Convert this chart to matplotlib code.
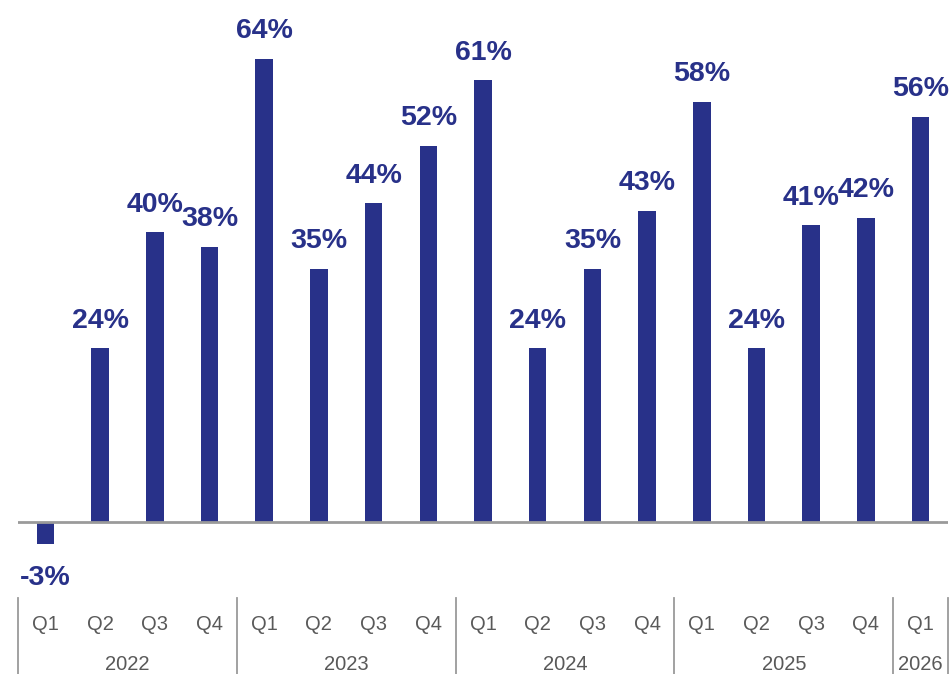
import matplotlib.pyplot as plt
from matplotlib.transforms import blended_transform_factory

plt.rcParams['font.family'] = ['Liberation Sans', 'DejaVu Sans']

quarters = ['Q1', 'Q2', 'Q3', 'Q4',
            'Q1', 'Q2', 'Q3', 'Q4',
            'Q1', 'Q2', 'Q3', 'Q4',
            'Q1', 'Q2', 'Q3', 'Q4',
            'Q1']
years = ['2022', '2023', '2024', '2025', '2026']
quarters_per_year = [4, 4, 4, 4, 1]
values = [-3, 24, 40, 38, 64, 35, 44, 52, 61, 24, 35, 43, 58, 24, 41, 42, 56]

bar_color = '#283189'
grey = '#9a9a9a'
text_grey = '#595959'

fig = plt.figure(figsize=(9.5, 6.74), dpi=100)
ax = fig.add_axes([18 / 950, 84 / 674, 930 / 950, 590 / 674])

x = list(range(len(values)))
bars = ax.bar(x, values, width=0.32, color=bar_color, zorder=2)

for xi, v in zip(x, values):
    ax.annotate(f'{v}%', (xi, v), xytext=(0, 10.5 if v >= 0 else -15.5),
                textcoords='offset points', ha='center',
                va='bottom' if v >= 0 else 'top',
                fontsize=20.5, fontweight='bold', color=bar_color)

ax.axhline(0, color=grey, lw=2, zorder=3)
ax.set_xlim(-0.5, len(values) - 0.5)
ax.set_ylim(-9.4, 72.1)
ax.axis('off')

# category axis: quarters, years, and separators
trans = blended_transform_factory(ax.transData, fig.transFigure)
for xi, q in zip(x, quarters):
    ax.text(xi, 49 / 674, q, transform=trans, ha='center', va='center',
            fontsize=14.5, color=text_grey)

start = -0.5
edges = [start]
for yr, n in zip(years, quarters_per_year):
    mid = start + n / 2
    ax.text(mid, 10 / 674, yr, transform=trans, ha='center', va='center',
            fontsize=14.5, color=text_grey)
    start += n
    edges.append(start)

for e in edges:
    ax.plot([e, e], [0, 76 / 674], transform=trans, color=grey, lw=1.3,
            clip_on=False)

fig.savefig('out.png', dpi=100)
